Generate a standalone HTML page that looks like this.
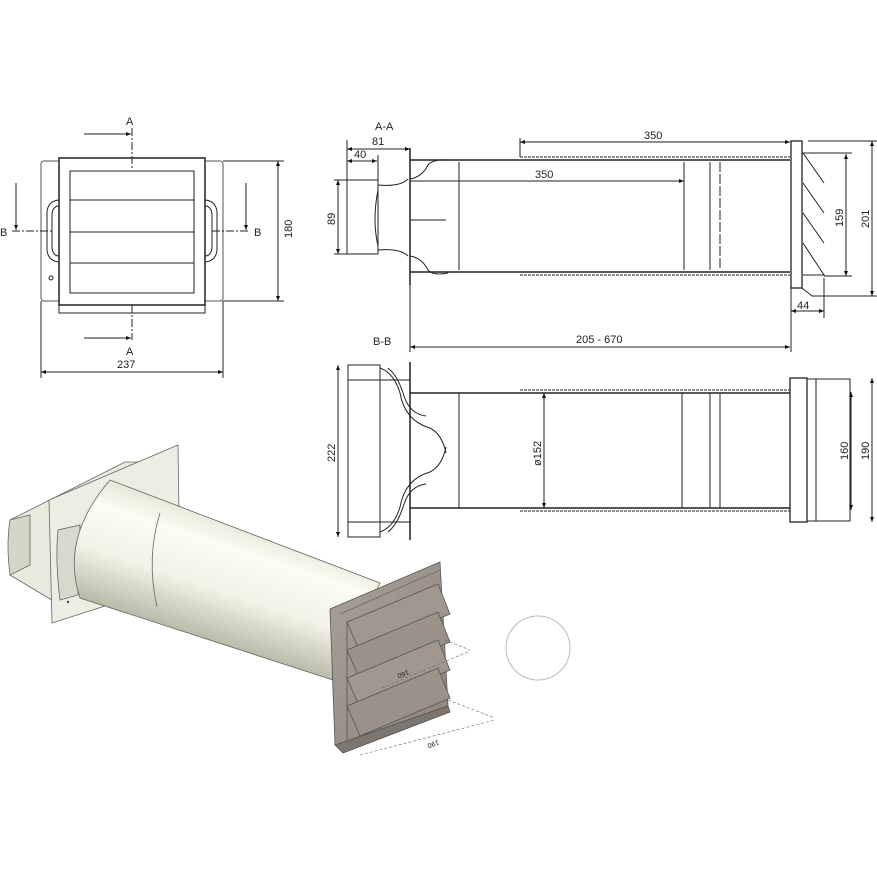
<!DOCTYPE html>
<html><head><meta charset="utf-8"><style>
html,body{margin:0;padding:0;background:#fff}
svg{display:block}
text{font-family:"Liberation Sans",sans-serif;font-size:11px;fill:#222}
</style></head><body>
<svg width="877" height="877" viewBox="0 0 877 877" xmlns="http://www.w3.org/2000/svg">
<defs>
<marker id="ar" viewBox="0 0 10 10" refX="10" refY="5" markerWidth="7" markerHeight="5" orient="auto-start-reverse"><path d="M0,1 L10,5 L0,9 z" fill="#111"/></marker>
<linearGradient id="cyl" gradientUnits="userSpaceOnUse" x1="245" y1="520" x2="205" y2="640">
<stop offset="0" stop-color="#e2e2d2"/><stop offset="0.25" stop-color="#fcfcf4"/><stop offset="0.6" stop-color="#f2f2e6"/><stop offset="1" stop-color="#b9b9a8"/></linearGradient>
<linearGradient id="grl" x1="0" y1="0" x2="1" y2="1"><stop offset="0" stop-color="#a8a099"/><stop offset="1" stop-color="#8c847d"/></linearGradient>
</defs>
<g fill="none" stroke="#222" stroke-width="1">
<!-- FRONT VIEW -->
<rect x="41" y="161" width="182" height="140" rx="3" stroke="#555"/>
<rect x="59" y="158" width="146" height="147" stroke-width="1.5" fill="#fff"/>
<rect x="70" y="171" width="124" height="122"/>
<line x1="70" y1="200" x2="194" y2="200"/><line x1="70" y1="232" x2="194" y2="232"/><line x1="70" y1="263" x2="194" y2="263"/>
<rect x="59" y="305" width="146" height="8"/>
<path d="M59,200 q-11,1 -12,12 v38 q1,11 12,12"/><path d="M59,206 q-6,0 -7,8 v34 q1,8 7,8"/>
<path d="M205,200 q11,1 12,12 v38 q-1,11 -12,12"/><path d="M205,206 q6,0 7,8 v34 q-1,8 -7,8"/>
<circle cx="51" cy="278" r="2"/>
<line x1="132" y1="128" x2="132" y2="170" stroke-dasharray="8,2,2,2"/>
<line x1="132" y1="305" x2="132" y2="340" stroke-dasharray="8,2,2,2"/>
<line x1="84" y1="134" x2="131" y2="134" marker-end="url(#ar)"/>
<line x1="84" y1="338" x2="131" y2="338" marker-end="url(#ar)"/>
<line x1="12" y1="231" x2="52" y2="231" stroke-dasharray="8,2,2,2"/>
<line x1="212" y1="231" x2="250" y2="231" stroke-dasharray="8,2,2,2"/>
<line x1="16" y1="183" x2="16" y2="230" marker-end="url(#ar)"/>
<line x1="246" y1="183" x2="246" y2="230" marker-end="url(#ar)"/>
<line x1="223" y1="161" x2="284" y2="161"/><line x1="223" y1="301" x2="284" y2="301"/>
<line x1="278" y1="161" x2="278" y2="301" marker-start="url(#ar)" marker-end="url(#ar)"/>
<line x1="41" y1="301" x2="41" y2="378"/><line x1="223" y1="301" x2="223" y2="378"/>
<line x1="41" y1="372" x2="223" y2="372" marker-start="url(#ar)" marker-end="url(#ar)"/>

<!-- A-A SECTION -->
<rect x="347" y="180" width="31" height="74"/>
<path d="M378,185 q22,2 30,-6 M378,250 q22,-2 30,6 M378,190 q-6,30 0,56"/>
<line x1="410" y1="148" x2="410" y2="285" stroke-width="1.5"/>
<path d="M410,179 q12,-2 18,-14 q5,-6 20,-5 M410,256 q12,2 18,14 q5,6 20,3"/>
<line x1="410" y1="160" x2="790" y2="160" stroke-width="1.5"/><line x1="410" y1="272" x2="790" y2="272" stroke-width="1.5"/>
<line x1="520" y1="157" x2="790" y2="157" stroke-dasharray="3,1"/><line x1="520" y1="275" x2="790" y2="275" stroke-dasharray="3,1"/>
<line x1="459" y1="162" x2="459" y2="270"/><line x1="684" y1="162" x2="684" y2="270"/>
<line x1="710" y1="162" x2="710" y2="270"/><line x1="720" y1="162" x2="720" y2="270" stroke-dasharray="10,2"/>
<line x1="410" y1="220" x2="446" y2="220"/>
<rect x="791" y="141" width="11" height="147" stroke-width="1.3"/>
<path d="M803,153 L824,183 M803,183 L824,213 M803,213 L824,243 M803,243 L824,275 L803,275 M802,288 L812,296 L877,296"/>
<line x1="802" y1="153" x2="852" y2="153"/><line x1="808" y1="141" x2="877" y2="141"/>
<line x1="846" y1="154" x2="846" y2="276" marker-start="url(#ar)" marker-end="url(#ar)"/>
<line x1="824" y1="276" x2="852" y2="276"/>
<line x1="872" y1="141" x2="872" y2="296" marker-start="url(#ar)" marker-end="url(#ar)"/>
<line x1="824" y1="278" x2="824" y2="318"/><line x1="791" y1="288" x2="791" y2="352"/>
<line x1="791" y1="311" x2="824" y2="311" marker-start="url(#ar)" marker-end="url(#ar)"/>
<line x1="347" y1="140" x2="347" y2="180"/><line x1="378" y1="155" x2="378" y2="180"/>
<line x1="347" y1="149" x2="410" y2="149" marker-start="url(#ar)" marker-end="url(#ar)"/>
<line x1="347" y1="161" x2="377" y2="161" marker-start="url(#ar)" marker-end="url(#ar)"/>
<line x1="334" y1="180" x2="347" y2="180"/><line x1="334" y1="254" x2="347" y2="254"/>
<line x1="338" y1="180" x2="338" y2="254" marker-start="url(#ar)" marker-end="url(#ar)"/>
<line x1="520" y1="138" x2="520" y2="157"/>
<line x1="520" y1="142" x2="790" y2="142" marker-start="url(#ar)" marker-end="url(#ar)"/>
<line x1="410" y1="181" x2="684" y2="181" marker-end="url(#ar)"/>
<line x1="410" y1="285" x2="410" y2="352"/>
<line x1="410" y1="347" x2="790" y2="347" marker-start="url(#ar)" marker-end="url(#ar)"/>

<!-- B-B SECTION -->
<rect x="348" y="365" width="32" height="172"/>
<line x1="348" y1="380" x2="410" y2="380"/><line x1="348" y1="522" x2="410" y2="522"/>
<line x1="410" y1="362" x2="410" y2="540" stroke-width="1.5"/>
<path d="M380,368 q14,5 20,25 q5,28 30,35 q12,6 16,25 M380,532 q14,-5 20,-25 q5,-28 30,-35 q12,-6 16,-25"/>
<path d="M388,368 q10,8 16,28 q6,18 22,20 M388,532 q10,-8 16,-28 q6,-18 22,-20"/>
<line x1="410" y1="393" x2="790" y2="393" stroke-width="1.5"/><line x1="410" y1="508" x2="790" y2="508" stroke-width="1.5"/>
<line x1="520" y1="390" x2="790" y2="390" stroke-dasharray="3,1"/><line x1="520" y1="511" x2="790" y2="511" stroke-dasharray="3,1"/>
<line x1="459" y1="393" x2="459" y2="508"/><line x1="682" y1="393" x2="682" y2="508"/>
<line x1="710" y1="393" x2="710" y2="508"/><line x1="720" y1="393" x2="720" y2="508"/>
<rect x="790" y="378" width="17" height="144" stroke-width="1.3"/>
<rect x="807" y="379" width="43" height="142"/><line x1="816" y1="379" x2="816" y2="521"/>
<line x1="338" y1="365" x2="338" y2="537" marker-start="url(#ar)" marker-end="url(#ar)"/>
<line x1="544" y1="393" x2="544" y2="508" marker-start="url(#ar)" marker-end="url(#ar)"/>
<line x1="851" y1="392" x2="851" y2="510" marker-start="url(#ar)" marker-end="url(#ar)"/>
<line x1="872" y1="378" x2="872" y2="522" marker-start="url(#ar)" marker-end="url(#ar)"/>
</g>
<g>
<text x="126" y="125">A</text><text x="126" y="355">A</text>
<text x="0" y="236">B</text><text x="254" y="236">B</text>
<text x="117" y="368">237</text>
<text transform="translate(292,238) rotate(-90)">180</text>
<text x="375" y="130">A-A</text><text x="372" y="145">81</text><text x="354" y="158">40</text>
<text transform="translate(335,225) rotate(-90)">89</text>
<text x="644" y="139">350</text><text x="535" y="178">350</text>
<text transform="translate(843,227) rotate(-90)">159</text>
<text transform="translate(869,228) rotate(-90)">201</text>
<text x="797" y="309">44</text>
<text x="576" y="343">205 - 670</text>
<text x="373" y="345">B-B</text>
<text transform="translate(335,462) rotate(-90)">222</text>
<text transform="translate(541,466) rotate(-90)">ø152</text>
<text transform="translate(848,460) rotate(-90)">160</text>
<text transform="translate(869,460) rotate(-90)">190</text>
</g>

<!-- 3D VIEW -->
<g stroke="#666" stroke-width="0.8">
<path d="M10,520 L125,462 L175,462 L175,548 L60,605 L10,575 z" fill="#e9e9de"/>
<path d="M10,520 q-4,25 0,55 L30,565 L30,515 z" fill="#d6d6c8"/>
<path d="M49,500 L178,445 L180,582 L52,623 z" fill="#eeede3"/>
<path d="M58,530 q-3,30 2,70 L78,595 L80,525 z" fill="#d8d8cc"/>
<path d="M110,480 L380,583 L333,680 L80,598 q-20,-60 30,-118 z" fill="url(#cyl)"/>
<path d="M160,513 q-14,45 -3,94" fill="none"/>
</g>
<circle cx="68" cy="602" r="1.2" fill="#444"/>
<g stroke="#555" stroke-width="0.8">
<path d="M330,609 L440,562 L448,706 L335,745 z" fill="url(#grl)"/>
<path d="M335,745 L343,753 L450,712 L448,706 z" fill="#7d756f"/>
<path d="M340,614 L440,570" fill="none" stroke="#6e6660"/>
<path d="M347,622 L438,584 L450,614 L360,652 z" fill="#a0988f"/>
<path d="M347,650 L438,612 L450,642 L360,680 z" fill="#9a9289"/>
<path d="M347,678 L438,640 L450,670 L360,708 z" fill="#a0988f"/>
<path d="M347,706 L438,668 L450,698 L360,736 z" fill="#9a9289"/>
<path d="M347,622 L347,740" fill="none"/>
</g>
<g stroke="#666" stroke-width="0.6" stroke-dasharray="3,2" fill="none">
<line x1="445" y1="640" x2="470" y2="650"/><line x1="382" y1="688" x2="470" y2="651"/>
<line x1="448" y1="700" x2="495" y2="718"/><line x1="360" y1="755" x2="495" y2="720"/>
</g>
<text transform="translate(408,670) rotate(160)" style="font-size:7px">160</text>
<text transform="translate(438,740) rotate(160)" style="font-size:7px">190</text>
<circle cx="538" cy="648" r="32" fill="none" stroke="#bbb" stroke-width="1"/>
</svg>
</body></html>
